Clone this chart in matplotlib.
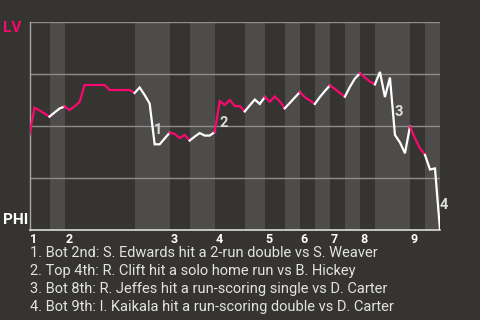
import matplotlib
matplotlib.use("Agg")
import matplotlib.pyplot as plt
import numpy as np

# LV win probability after each plate appearance (index 0 = game start)
lv_win_prob = [
    0.459, 0.588, 0.575, 0.560, 0.545,                      # T1
    0.565, 0.584, 0.594,                                    # B1
    0.577, 0.594, 0.615, 0.697, 0.697, 0.697, 0.697, 0.697,
    0.673, 0.673, 0.673, 0.673, 0.673, 0.659,               # T2
    0.685, 0.649, 0.608, 0.412, 0.412, 0.440, 0.468,        # B2
    0.462, 0.442, 0.457, 0.430,                             # T3
    0.449, 0.466, 0.454, 0.454, 0.471,                      # B3
    0.620, 0.601, 0.625, 0.596, 0.596, 0.570,               # T4
    0.599, 0.627, 0.606, 0.639,                             # B4
    0.617, 0.642, 0.618, 0.585,                             # T5
    0.611, 0.637, 0.663,                                    # B5
    0.638, 0.623, 0.606,                                    # T6
    0.639, 0.668, 0.695,                                    # B6
    0.678, 0.659, 0.641,                                    # T7
    0.688, 0.728, 0.753,                                    # B7
    0.733, 0.714, 0.700,                                    # T8
    0.760, 0.639, 0.733, 0.457, 0.421, 0.369, 0.497,        # B8
    0.441, 0.393, 0.361,                                    # T9
    0.291, 0.296, 0.000,                                    # B9
]
# plate-appearance index at which each half inning ends (T1, B1, T2, ...)
half_inning_ends = [4, 7, 21, 28, 32, 37, 43, 47, 51, 54, 57, 60, 63, 66, 69, 76, 79, 82]
inning_labels = ["1", "2", "3", "4", "5", "6", "7", "8", "9"]

# key events: plate appearance index and description
event_pa = [25, 38, 73, 82]
event_text = [
    "Bot 2nd: S. Edwards hit a 2-run double vs S. Weaver",
    "Top 4th: R. Clift hit a solo home run vs B. Hickey",
    "Bot 8th: R. Jeffes hit a run-scoring single vs D. Carter",
    "Bot 9th: I. Kaikala hit a run-scoring double vs D. Carter",
]
team_top = "LV"
team_bottom = "PHI"

BG = "#363431"
BAND = "#4d4c4a"
MAGENTA = "#f7096e"
TEXT = "#e3e3e3"
FONT = "Roboto"

W, H = 480, 320
fig = plt.figure(figsize=(W / 100, H / 100), dpi=100, facecolor=BG)
L, R, T, B = 29.5, 440, 22, 230
ax = fig.add_axes([L / W, 1 - B / H, (R - L) / W, (B - T) / H])
ax.set_facecolor(BG)

x = np.arange(len(lv_win_prob))
y = np.array(lv_win_prob)
n_pa = len(lv_win_prob) - 1
ax.set_xlim(0, n_pa)
ax.set_ylim(0, 1)

starts = [0] + half_inning_ends[:-1]
for k, (s, e) in enumerate(zip(starts, half_inning_ends)):
    top = (k % 2 == 0)
    if not top:
        ax.axvspan(s, e, color=BAND, lw=0, zorder=0)
    ax.plot(x[s:e + 1], y[s:e + 1], color=MAGENTA if top else "white",
            lw=1.6, solid_joinstyle="miter", zorder=3)

for g in [0.25, 0.5, 0.75, 1.0]:
    ax.axhline(g, color="#8e8d8b", lw=1.0, zorder=1)

for s in ["top", "right"]:
    ax.spines[s].set_visible(False)
ax.spines["left"].set_color("#a8a7a5")
ax.spines["left"].set_linewidth(1.0)
ax.spines["bottom"].set_color("#dcdcdc")
ax.spines["bottom"].set_linewidth(1.2)
ax.set_xticks([])
ax.set_yticks([])

# inning numbers at start of each inning
inning_starts = starts[0::2]
for lab, s in zip(inning_labels, inning_starts):
    ax.annotate(lab, (s, 0), xytext=(0.5, -2), textcoords="offset points",
                ha="left", va="top", color="white", fontsize=9,
                fontweight="bold", family=FONT)

# event markers
for i, pa in enumerate(event_pa):
    mx = pa - 0.5
    my = (y[pa - 1] + y[pa]) / 2
    ax.annotate(str(i + 1), (mx, my), xytext=(4.3, -4.3), textcoords="offset points",
                ha="center", va="center", color="#dcdcdc", fontsize=10.5,
                fontweight="bold", family=FONT, zorder=5)

fig.text(2.5 / W, 1 - 28 / H, team_top, color=MAGENTA, fontsize=11,
         fontweight="bold", family=FONT, ha="left", va="center")
fig.text(2.5 / W, 1 - 219.5 / H, team_bottom, color="white", fontsize=11,
         fontweight="bold", family=FONT, ha="left", va="center")

for i, t in enumerate(event_text):
    fig.text(30.5 / W, 1 - (253.3 + 18 * i) / H, f"{i + 1}. {t}", color=TEXT,
             fontsize=10.5, family=FONT, ha="left", va="center")

fig.savefig("out.png", dpi=100, facecolor=BG)
